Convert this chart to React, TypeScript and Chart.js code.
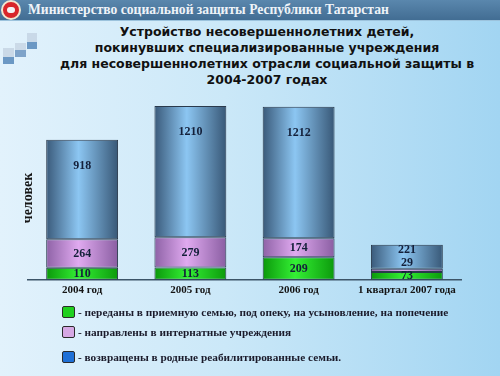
import React, { useEffect, useRef } from "react";
import { Chart, registerables } from "chart.js";

Chart.register(...registerables);

const categories = ["2004 год", "2005 год", "2006 год", "1 квартал 2007 года"];
const transferred = [110, 113, 209, 73];
const boarding = [264, 279, 174, 29];
const returned = [918, 1210, 1212, 221];
const seriesNames = [
  "- переданы в приемную семью, под опеку, на усыновление, на попечение",
  "- направлены в интернатные учреждения",
  "- возвращены в родные реабилитированные семьи.",
];
const headerText = "Министерство социальной защиты Республики Татарстан";
const titleLines = [
  "Устройство несовершеннолетних детей,",
  "покинувших специализированные учреждения",
  "для несовершеннолетних отрасли социальной защиты в",
  "2004-2007 годах",
];
const axisTitle = "человек";

const BAR_PCT = 0.8;
const CAT_PCT = 0.83;
const SERIF = "'Liberation Serif', 'DejaVu Serif', serif";

const barStops = [
  ["#0b980b", "#34f034", "#0c9a0c"],
  ["#8e62a6", "#e0aaf0", "#8a5ea2"],
  ["#3a5a7a", "#8cc6f2", "#385877"],
];
const legendColors = ["#1fd01f", "#d6a8e4", "#1f70d6"];

const makeFill = (stops: string[]) => (ctx: any) => {
  const chart = ctx.chart;
  const area = chart.chartArea;
  const xs = chart.scales?.x;
  if (!area || !xs || ctx.dataIndex === undefined) return stops[1];
  const cx = xs.getPixelForValue(ctx.dataIndex);
  const half = ((area.width / categories.length) * BAR_PCT * CAT_PCT) / 2;
  const g = chart.ctx.createLinearGradient(cx - half, 0, cx + half, 0);
  g.addColorStop(0, stops[0]);
  g.addColorStop(0.45, stops[1]);
  g.addColorStop(1, stops[2]);
  return g;
};

const valueLabels = {
  id: "valueLabels",
  afterDatasetsDraw(chart: any) {
    const ctx = chart.ctx;
    ctx.save();
    ctx.font = `bold 12px ${SERIF}`;
    ctx.fillStyle = "#14203a";
    ctx.textAlign = "center";
    ctx.textBaseline = "middle";
    const n = chart.data.labels.length;
    for (let i = 0; i < n; i++) {
      let prevY = Infinity;
      chart.data.datasets.forEach((ds: any, d: number) => {
        const el = chart.getDatasetMeta(d).data[i];
        if (!el) return;
        const h = el.base - el.y;
        const isTop = d === chart.data.datasets.length - 1;
        let y = isTop ? el.y + Math.min(26, h / 2) : el.y + h / 2;
        y = Math.min(y, prevY - 13);
        ctx.fillText(String(ds.data[i]), el.x, y);
        prevY = y;
      });
    }
    ctx.restore();
  },
};

export default function App() {
  const ref = useRef<HTMLCanvasElement | null>(null);

  useEffect(() => {
    if (!ref.current) return;
    const totals = categories.map((_, i) => transferred[i] + boarding[i] + returned[i]);
    const chart = new Chart(ref.current, {
      type: "bar",
      data: {
        labels: categories,
        datasets: [transferred, boarding, returned].map((data, d) => ({
          label: seriesNames[d],
          data,
          backgroundColor: makeFill(barStops[d]),
          borderColor: "#2a3a4c",
          borderWidth: 1,
          borderSkipped: false,
          barPercentage: BAR_PCT,
          categoryPercentage: CAT_PCT,
        })),
      },
      options: {
        responsive: false,
        animation: false,
        layout: { padding: { left: 28, right: 39, top: 106, bottom: 75 } },
        plugins: { legend: { display: false }, tooltip: { enabled: false } },
        scales: {
          x: {
            stacked: true,
            grid: { display: false, drawTicks: false },
            border: { display: true, color: "#3c5468", width: 1.5 },
            ticks: {
              padding: 4,
              color: "#151515",
              font: { family: SERIF, size: 11, weight: "bold" },
            },
          },
          y: {
            stacked: true,
            display: false,
            min: 0,
            max: Math.max(...totals),
          },
        },
      },
      plugins: [valueLabels],
    });
    return () => chart.destroy();
  }, []);

  const squares = [
    { l: 27, t: 33, w: 10, h: 9, c: "#c9d9e8" },
    { l: 27, t: 42, w: 10, h: 7, c: "#6b98c4" },
    { l: 15, t: 43, w: 11, h: 7, c: "#cbdae8" },
    { l: 15, t: 50, w: 11, h: 7, c: "#7ea3c9" },
    { l: 3, t: 48, w: 11, h: 9, c: "#cad9e7" },
    { l: 3, t: 57, w: 11, h: 7, c: "#6b98c4" },
  ];
  const legendRows = [312, 332, 357];

  return (
    <div
      style={{
        position: "fixed",
        left: 0,
        top: 0,
        width: 500,
        height: 376,
        overflow: "hidden",
        background: "linear-gradient(to right, #e2f2fc 0%, #cbe8f8 45%, #a2d5f2 100%)",
      }}
    >
      <div
        style={{
          position: "absolute",
          left: 0,
          top: 0,
          width: 500,
          height: 20,
          background: "linear-gradient(to bottom, #5a87ad, #426d93)",
          borderBottom: "1px solid #9cc3dd",
        }}
      />
      <div
        style={{
          position: "absolute",
          left: 1,
          top: 0,
          width: 16,
          height: 16,
          borderRadius: "50%",
          background: "#d8262a",
          border: "2px solid #f1e6d0",
        }}
      >
        <div
          style={{
            position: "absolute",
            left: 4,
            top: 5,
            width: 8,
            height: 6,
            borderRadius: 3,
            background: "#f4f4f4",
          }}
        />
      </div>
      <div
        style={{
          position: "absolute",
          left: 28,
          top: 0,
          height: 20,
          lineHeight: "20px",
          fontFamily: SERIF,
          fontWeight: "bold",
          fontSize: 13.6,
          color: "#eef3f8",
          whiteSpace: "nowrap",
        }}
      >
        {headerText}
      </div>
      {squares.map((s, i) => (
        <div
          key={i}
          style={{ position: "absolute", left: s.l, top: s.t, width: s.w, height: s.h, background: s.c }}
        />
      ))}
      <div
        style={{
          position: "absolute",
          left: 40,
          top: 24,
          width: 454,
          textAlign: "center",
          fontFamily: "'DejaVu Sans', Verdana, sans-serif",
          fontWeight: "bold",
          fontSize: 12.5,
          lineHeight: "16px",
          color: "#111",
        }}
      >
        {titleLines.map((t, i) => (
          <div key={i} style={{ whiteSpace: "nowrap" }}>{t}</div>
        ))}
      </div>
      <canvas
        ref={ref}
        width={500}
        height={376}
        style={{ position: "absolute", left: 0, top: 0, width: 500, height: 376 }}
      />
      <div
        style={{
          position: "absolute",
          left: 28,
          top: 198,
          transform: "translate(-50%, -50%) rotate(-90deg)",
          fontFamily: SERIF,
          fontWeight: "bold",
          fontSize: 14,
          color: "#151515",
          whiteSpace: "nowrap",
        }}
      >
        {axisTitle}
      </div>
      {seriesNames.map((name, i) => (
        <React.Fragment key={i}>
          <div
            style={{
              position: "absolute",
              left: 62,
              top: legendRows[i] - 6,
              width: 11,
              height: 10,
              background: legendColors[i],
              border: "1px solid #2b2b2b",
              borderRadius: 2,
            }}
          />
          <div
            style={{
              position: "absolute",
              left: 78,
              top: legendRows[i] - 8,
              height: 16,
              lineHeight: "16px",
              fontFamily: SERIF,
              fontWeight: "bold",
              fontSize: 11.3,
              color: "#1a1a2a",
              whiteSpace: "nowrap",
            }}
          >
            {name}
          </div>
        </React.Fragment>
      ))}
    </div>
  );
}
